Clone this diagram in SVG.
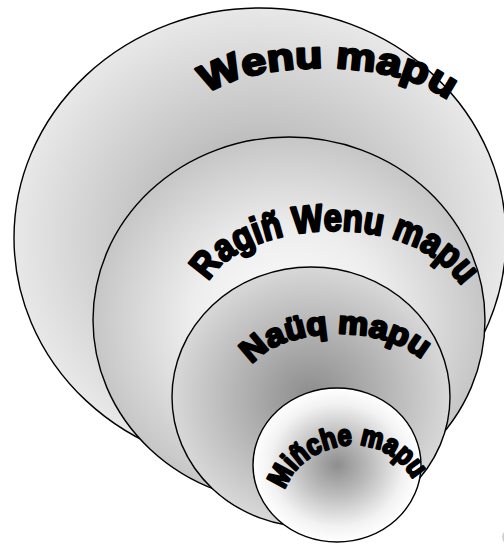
<svg xmlns="http://www.w3.org/2000/svg" width="504" height="544" viewBox="0 0 504 544">
<defs>
<radialGradient id="gOuter" cx="0.5" cy="0.5" r="0.5">
<stop offset="0" stop-color="#9a9a9a"/><stop offset="0.5" stop-color="#c4c4c4"/><stop offset="1" stop-color="#e8e8e8"/>
</radialGradient>
<radialGradient id="gRagin" cx="0.5" cy="0.5" r="0.5">
<stop offset="0" stop-color="#ffffff"/><stop offset="0.5" stop-color="#ededed"/><stop offset="1" stop-color="#c6c6c6"/>
</radialGradient>
<radialGradient id="gNauq" cx="0.5" cy="0.5" r="0.5">
<stop offset="0" stop-color="#8c8c8c"/><stop offset="0.5" stop-color="#b2b2b2"/><stop offset="1" stop-color="#d8d8d8"/>
</radialGradient>
<radialGradient id="gMinche" cx="0.5" cy="0.5" r="0.5">
<stop offset="0" stop-color="#8e8e8e"/><stop offset="0.4" stop-color="#bdbdbd"/><stop offset="0.8" stop-color="#f2f2f2"/><stop offset="1" stop-color="#ffffff"/>
</radialGradient>
<path id="p1" d="M 207 95 C 248 60, 405 54, 456 108"/>
<path id="p2" d="M 209 282 C 234 224, 418 198, 469 298"/>
<path id="p3" d="M 252 365 C 280 326, 388 320, 428 366"/>
<path id="p4" d="M 285 490 C 298 443, 390 416, 421 495"/>
</defs>
<style>
.ring{stroke:#000;stroke-width:1.4}
.lbl{font-family:"Liberation Sans",Arial,sans-serif;font-weight:bold;fill:#000;stroke:#000;stroke-width:2.4;stroke-linejoin:round}
</style>
<rect width="504" height="544" fill="#ffffff"/>
<circle cx="510" cy="537" r="8" fill="#cfcfcf"/>
<g id="wenu-mapu">
<ellipse class="ring" cx="260" cy="238" rx="246" ry="230" fill="url(#gOuter)"/>
<text class="lbl" font-size="38"><textPath href="#p1" textLength="252" lengthAdjust="spacingAndGlyphs">Wenu mapu</textPath></text>
</g>
<g id="ragin-wenu-mapu">
<ellipse class="ring" cx="289" cy="320" rx="196" ry="183" fill="url(#gRagin)"/>
<text class="lbl" font-size="38"><textPath href="#p2" textLength="286" lengthAdjust="spacingAndGlyphs">Ragiñ Wenu mapu</textPath></text>
</g>
<g id="nauq-mapu">
<ellipse class="ring" cx="311" cy="397" rx="139" ry="130" fill="url(#gNauq)"/>
<text class="lbl" font-size="32"><textPath href="#p3" textLength="184" lengthAdjust="spacingAndGlyphs">Naüq mapu</textPath></text>
</g>
<g id="minche-mapu">
<ellipse class="ring" cx="337" cy="465" rx="84" ry="77" fill="url(#gMinche)"/>
<text class="lbl" font-size="29"><textPath href="#p4" textLength="160" lengthAdjust="spacingAndGlyphs">Miñche mapu</textPath></text>
</g>
</svg>
